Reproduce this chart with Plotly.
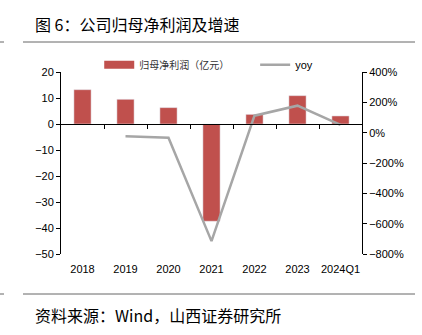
import plotly.graph_objects as go

categories = ["2018", "2019", "2020", "2021", "2022", "2023", "2024Q1"]
profit = [13.2, 9.5, 6.3, -37.4, 3.7, 10.9, 3.1]
yoy_cats = ["2019", "2020", "2021", "2022", "2023", "2024Q1"]
yoy = [-24, -33, -715, 112, 178, 51]

bar_name = "归母净利润（亿元）"
line_name = "yoy"
title_text = "图 6：公司归母净利润及增速"
source_text = "资料来源：Wind，山西证券研究所"

RED = "#C0504D"
GRAY = "#A6A6A6"
TICKFONT = dict(family="Liberation Sans, Arial", size=11, color="#000000")
CJK = "Noto Sans CJK SC"

fig = go.Figure()
fig.add_trace(go.Bar(x=categories, y=profit, marker_color=RED, width=0.4,
                     showlegend=False, name=bar_name))
# legend proxy for the bar series (wide rectangular swatch)
fig.add_trace(go.Scatter(x=[None], y=[None], mode="lines", name=bar_name,
                         line=dict(color=RED, width=8), legend="legend"))
fig.add_trace(go.Scatter(x=yoy_cats, y=yoy, mode="lines", name=line_name,
                         line=dict(color=GRAY, width=2.5), yaxis="y2",
                         legend="legend2"))
# anchor trace so the zero-line category axis (x2) is rendered
fig.add_trace(go.Scatter(x=[0], y=[0], xaxis="x2", mode="markers",
                         marker=dict(opacity=0), showlegend=False,
                         hoverinfo="skip"))

fig.update_layout(
    width=422, height=335,
    margin=dict(l=61, r=60, t=72, b=81),
    plot_bgcolor="white", paper_bgcolor="white",
    xaxis=dict(type="category", categoryorder="array", categoryarray=categories,
               showline=False, ticks="", showgrid=False, zeroline=False,
               tickfont=TICKFONT, range=[-0.5, 6.5], ticklabelstandoff=7),
    xaxis2=dict(overlaying="x", anchor="free", position=50 / 70, type="linear",
                range=[-0.5, 6.5], tickvals=[0.5, 1.5, 2.5, 3.5, 4.5, 5.5],
                showticklabels=False, ticks="outside", ticklen=4,
                tickcolor="#000", showline=True, linecolor="#000", linewidth=1,
                showgrid=False, zeroline=False),
    yaxis=dict(range=[-50, 20], dtick=10, showgrid=False, zeroline=False,
               showline=True, linecolor="#000", linewidth=1, ticks="outside",
               ticklen=4, tickcolor="#000", tickfont=TICKFONT),
    yaxis2=dict(range=[-800, 400], dtick=200, ticksuffix="%", overlaying="y",
                side="right", showgrid=False, zeroline=False, showline=True,
                linecolor="#000", linewidth=1, ticks="outside", ticklen=4,
                tickcolor="#000", tickfont=TICKFONT),
    legend=dict(orientation="h", x=0.127, y=1.04, xanchor="left", yanchor="middle",
                font=dict(family=CJK, size=10, color="#333"),
                bgcolor="rgba(0,0,0,0)", itemwidth=30),
    legend2=dict(orientation="h", x=0.645, y=1.04, xanchor="left", yanchor="middle",
                 font=dict(family="Liberation Sans, Arial", size=11, color="#000"),
                 bgcolor="rgba(0,0,0,0)", itemwidth=30),
    annotations=[
        dict(text=title_text, xref="paper", yref="paper", x=(33 - 61) / 301,
             y=(254 - 24) / 182, xanchor="left", yanchor="middle", showarrow=False,
             font=dict(family=CJK, size=16, color="#000")),
        dict(text=source_text, xref="paper", yref="paper", x=(33 - 61) / 301,
             y=(254 - 315) / 182, xanchor="left", yanchor="middle", showarrow=False,
             font=dict(family=CJK, size=16, color="#000")),
    ],
    shapes=[
        dict(type="line", xref="paper", yref="paper", x0=(23 - 61) / 301,
             x1=(415 - 61) / 301, y0=(254 - 42) / 182, y1=(254 - 42) / 182,
             line=dict(color="#666", width=1)),
        dict(type="line", xref="paper", yref="paper", x0=(0 - 61) / 301,
             x1=(4 - 61) / 301, y0=(254 - 42) / 182, y1=(254 - 42) / 182,
             line=dict(color="#666", width=1)),
        dict(type="line", xref="paper", yref="paper", x0=(23 - 61) / 301,
             x1=(415 - 61) / 301, y0=(254 - 294) / 182, y1=(254 - 294) / 182,
             line=dict(color="#666", width=1)),
        dict(type="line", xref="paper", yref="paper", x0=(0 - 61) / 301,
             x1=(4 - 61) / 301, y0=(254 - 294) / 182, y1=(254 - 294) / 182,
             line=dict(color="#666", width=1)),
    ],
)

fig.write_html("out.html")
